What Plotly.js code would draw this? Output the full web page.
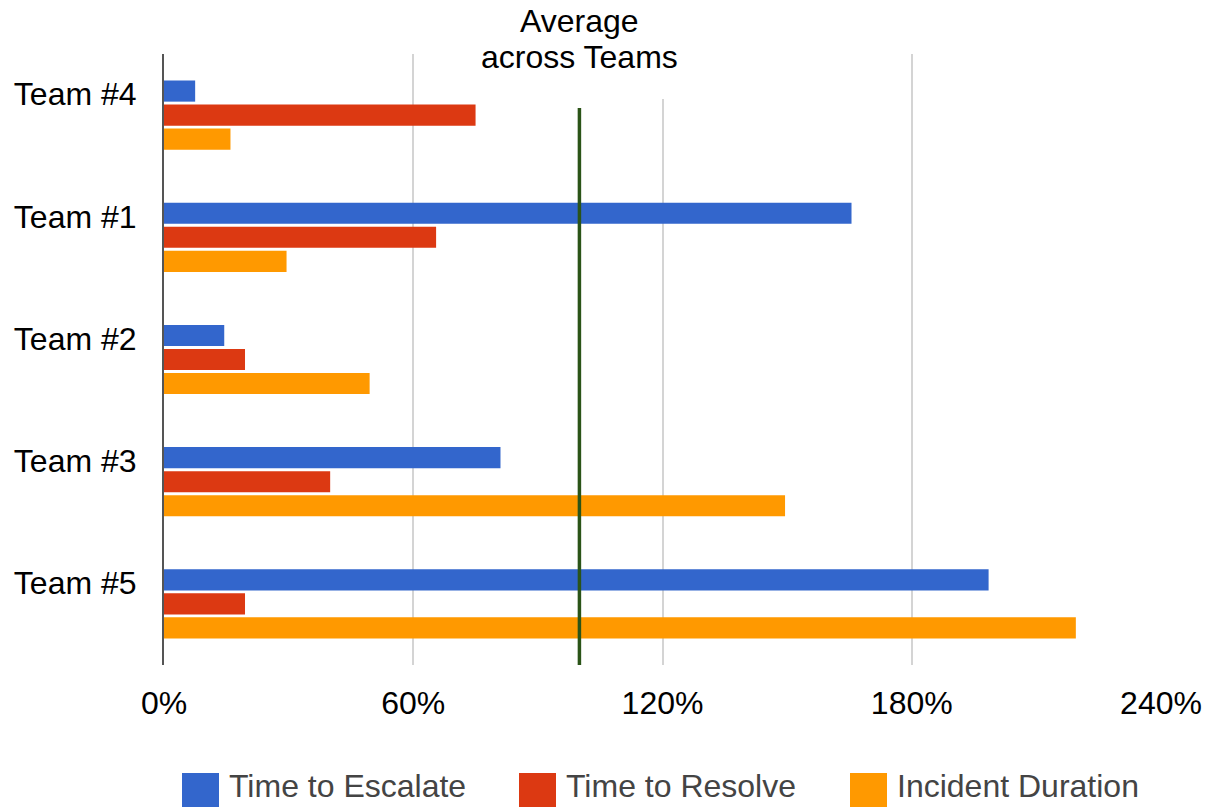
<!DOCTYPE html>
<html>
<head>
<meta charset="utf-8">
<script src="https://cdn.plot.ly/plotly-3.0.1.min.js"></script>
<style>
  html, body { margin: 0; padding: 0; background: #ffffff; }
  #chart { width: 1211px; height: 807px; }
</style>
</head>
<body>
<div id="chart"></div>
<script>
// Categories, top to bottom
const teams = ['Team #4', 'Team #1', 'Team #2', 'Team #3', 'Team #5'];

// Series values, percent of the cross-team average
const timeToEscalate   = [7.5, 165.5, 14.5, 81, 198.5];
const timeToResolve    = [75, 65.5, 19.5, 40, 19.5];
const incidentDuration = [16, 29.5, 49.5, 149.5, 219.5];

// Reference value for the vertical marker
const averageAcrossTeams = 100;

// Axis ticks
const xTickValues = [0, 60, 120, 180, 240];
const xTickLabels = ['0%', '60%', '120%', '180%', '240%'];

const seriesNames  = ['Time to Escalate', 'Time to Resolve', 'Incident Duration'];
const seriesValues = [timeToEscalate, timeToResolve, incidentDuration];
const seriesColors = ['#3366cc', '#dc3912', '#ff9900'];

const FONT = 'Arial, "Liberation Sans", sans-serif';
const FS = 32;
const W = 1211, H = 807;
const M = { l: 164, r: 50, t: 54, b: 142 };
const plotW = W - M.l - M.r;
const plotH = H - M.t - M.b;

// pixel -> paper helpers for legend / label placement
const px = p => (p - M.l) / plotW;
const py = p => (M.t + plotH - p) / plotH;

const traces = seriesNames.map((name, i) => ({
  type: 'bar',
  orientation: 'h',
  name: name,
  y: teams,
  x: seriesValues[i],
  marker: { color: seriesColors[i] },
  hoverinfo: 'x+y+name'
}));

// Custom legend below the plot (swatches + labels)
const legendStart = [182, 519, 850];
const legendShapes = seriesNames.map((name, i) => ({
  type: 'rect', xref: 'paper', yref: 'paper',
  x0: px(legendStart[i]), x1: px(legendStart[i] + 37),
  y0: py(773), y1: py(810),
  fillcolor: seriesColors[i], line: { width: 0 }, layer: 'above'
}));
const legendLabels = seriesNames.map((name, i) => ({
  xref: 'paper', yref: 'paper',
  x: px(legendStart[i] + 45), y: py(786),
  xanchor: 'left', yanchor: 'middle',
  text: name, showarrow: false,
  font: { family: FONT, size: FS, color: '#444444' }
}));

const layout = {
  width: W, height: H,
  margin: M,
  paper_bgcolor: '#ffffff',
  plot_bgcolor: '#ffffff',
  showlegend: false,
  barmode: 'group',
  bargap: 0.41,
  bargroupgap: 0.12,
  font: { family: FONT, size: FS, color: '#000000' },
  xaxis: {
    range: [0, 240],
    tickvals: xTickValues,
    ticktext: xTickLabels,
    showgrid: true,
    gridcolor: '#d4d4d4',
    gridwidth: 2,
    zeroline: false,
    showline: false,
    ticks: '',
    ticklabelstandoff: 16,
    tickfont: { family: FONT, size: FS, color: '#000000' },
    fixedrange: true
  },
  yaxis: {
    type: 'category',
    autorange: 'reversed',
    showgrid: false,
    zeroline: false,
    showline: true,
    linecolor: '#555555',
    linewidth: 2,
    ticks: '',
    ticklabelstandoff: 19,
    ticklabelshift: 21,
    tickfont: { family: FONT, size: FS, color: '#000000' },
    fixedrange: true
  },
  shapes: [
    // white backing behind the marker caption
    { type: 'rect', xref: 'x', yref: 'paper',
      x0: 72, x1: 128, y0: py(99), y1: 1.02,
      fillcolor: '#ffffff', line: { width: 0 }, layer: 'above' },
    // average marker line
    { type: 'line', xref: 'x', yref: 'paper',
      x0: averageAcrossTeams, x1: averageAcrossTeams,
      y0: 0, y1: py(108),
      line: { color: '#2b5418', width: 3.5 }, layer: 'above' }
  ].concat(legendShapes),
  annotations: [
    { xref: 'x', yref: 'paper', x: averageAcrossTeams, y: py(21),
      text: 'Average', showarrow: false, xanchor: 'center', yanchor: 'middle',
      font: { family: FONT, size: FS, color: '#000000' } },
    { xref: 'x', yref: 'paper', x: averageAcrossTeams, y: py(57),
      text: 'across Teams', showarrow: false, xanchor: 'center', yanchor: 'middle',
      font: { family: FONT, size: FS, color: '#000000' } }
  ].concat(legendLabels)
};

Plotly.newPlot('chart', traces, layout, { displayModeBar: false, staticPlot: true });
</script>
</body>
</html>
